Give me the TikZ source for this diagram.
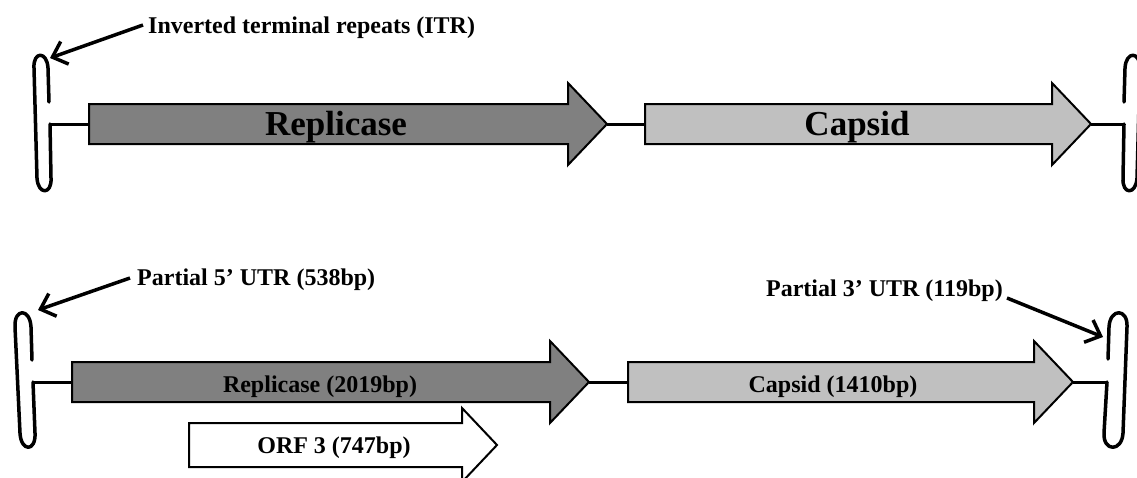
\documentclass[tikz,border=0pt]{standalone}
\usepackage{fontspec}
\setmainfont{Liberation Serif}
\usetikzlibrary{arrows.meta}
\definecolor{repgray}{RGB}{128,128,128}
\definecolor{capgray}{RGB}{192,192,192}
\tikzset{
  gene/.style={draw=black, line width=2pt, line join=miter},
  stem/.style={draw=black, line width=3pt},
  loopline/.style={draw=black, line width=3.5pt, line cap=round, line join=round},
  pointer/.style={draw=black, line width=3.5pt, -{Straight Barb[length=13pt, width=24pt, line width=3.5pt]}},
  lab/.style={font=\fontsize{24}{26}\selectfont\bfseries, inner sep=0pt},
  biglab/.style={font=\fontsize{35}{38}\selectfont\bfseries, inner sep=0pt},
}
\begin{document}
\begin{tikzpicture}[x=1pt, y=-1pt]
\useasboundingbox (0,0) rectangle (1137,477);

% ---------- top row ----------
\coordinate (repAstart) at (89,124);
\coordinate (repAtip) at (607,124);
\coordinate (capAstart) at (645,124);
\coordinate (capAtip) at (1091,124);
\filldraw[gene, fill=repgray] (89,104) -- (568,104) -- (568,83) -- (607,124) -- (568,165) -- (568,144) -- (89,144) -- cycle;
\filldraw[gene, fill=capgray] (645,104) -- (1052,104) -- (1052,83) -- (1091,124) -- (1052,165) -- (1052,144) -- (645,144) -- cycle;
\node[biglab, anchor=base] (repA) at (336,135) {Replicase};
\node[biglab, anchor=base] (capA) at (857,135) {Capsid};
\draw[stem] (repAtip) -- (capAstart);

% left ITR loop (top)
\coordinate (itrLjoin) at (50,124);
\draw[loopline] (49,102) -- (48,68) .. controls (47,51) and (33,51) .. (34,68) -- (37,178) .. controls (38,195) and (52,195) .. (51,178) -- (itrLjoin);
\draw[stem] (itrLjoin) -- (repAstart);
% right ITR loop (top)
\coordinate (itrRjoin) at (1124,124);
\draw[loopline] (1124,102) -- (1125,68) .. controls (1126,51) and (1140,51) .. (1140,68) -- (1137,178) .. controls (1136,195) and (1122,195) .. (1123,178) -- (itrRjoin);
\draw[stem] (capAtip) -- (itrRjoin);

\node[lab, anchor=base west] (itrlab) at (148,33) {Inverted terminal repeats (ITR)};
\coordinate (itrpt) at (50,58);
\draw[pointer] (143,25) -- (itrpt);

% ---------- bottom row ----------
\coordinate (repBstart) at (72,382);
\coordinate (repBtip) at (589,382);
\coordinate (capBstart) at (628,382);
\coordinate (capBtip) at (1073,382);
\filldraw[gene, fill=repgray] (72,362) -- (550,362) -- (550,341) -- (589,382) -- (550,423) -- (550,402) -- (72,402) -- cycle;
\filldraw[gene, fill=capgray] (628,362) -- (1034,362) -- (1034,341) -- (1073,382) -- (1034,423) -- (1034,402) -- (628,402) -- cycle;
\filldraw[gene, fill=white] (189,423) -- (462,423) -- (462,408) -- (497,445) -- (462,482) -- (462,467) -- (189,467) -- cycle;
\node[lab, anchor=base] (repB) at (320,392) {Replicase (2019bp)};
\node[lab, anchor=base] (capB) at (833,392) {Capsid (1410bp)};
\node[lab, anchor=base] (orf) at (334,453) {ORF 3 (747bp)};
\draw[stem] (repBtip) -- (capBstart);

% left loop (bottom)
\coordinate (utr5join) at (33,382);
\draw[loopline] (32,360) -- (31,327) .. controls (30,308) and (14,308) .. (15,327) -- (20,433) .. controls (21,452) and (36,452) .. (35,433) -- (utr5join);
\draw[stem] (utr5join) -- (repBstart);
% right loop (bottom)
\coordinate (utr3join) at (1107,382);
\draw[loopline] (1108,359) -- (1109,327) .. controls (1110,308) and (1128,308) .. (1127,327) -- (1123,433) .. controls (1122,452) and (1103,452) .. (1104,433) -- (utr3join);
\draw[stem] (capBtip) -- (utr3join);

\node[lab, anchor=base west] (utr5lab) at (137,285) {Partial 5’ UTR (538bp)};
\coordinate (utr5pt) at (38,310);
\draw[pointer] (130,278) -- (utr5pt);

\node[lab, anchor=base east] (utr3lab) at (1003,296) {Partial 3’ UTR (119bp)};
\coordinate (utr3pt) at (1103,337);
\draw[pointer] (1007,298) -- (utr3pt);
\end{tikzpicture}
\end{document}
